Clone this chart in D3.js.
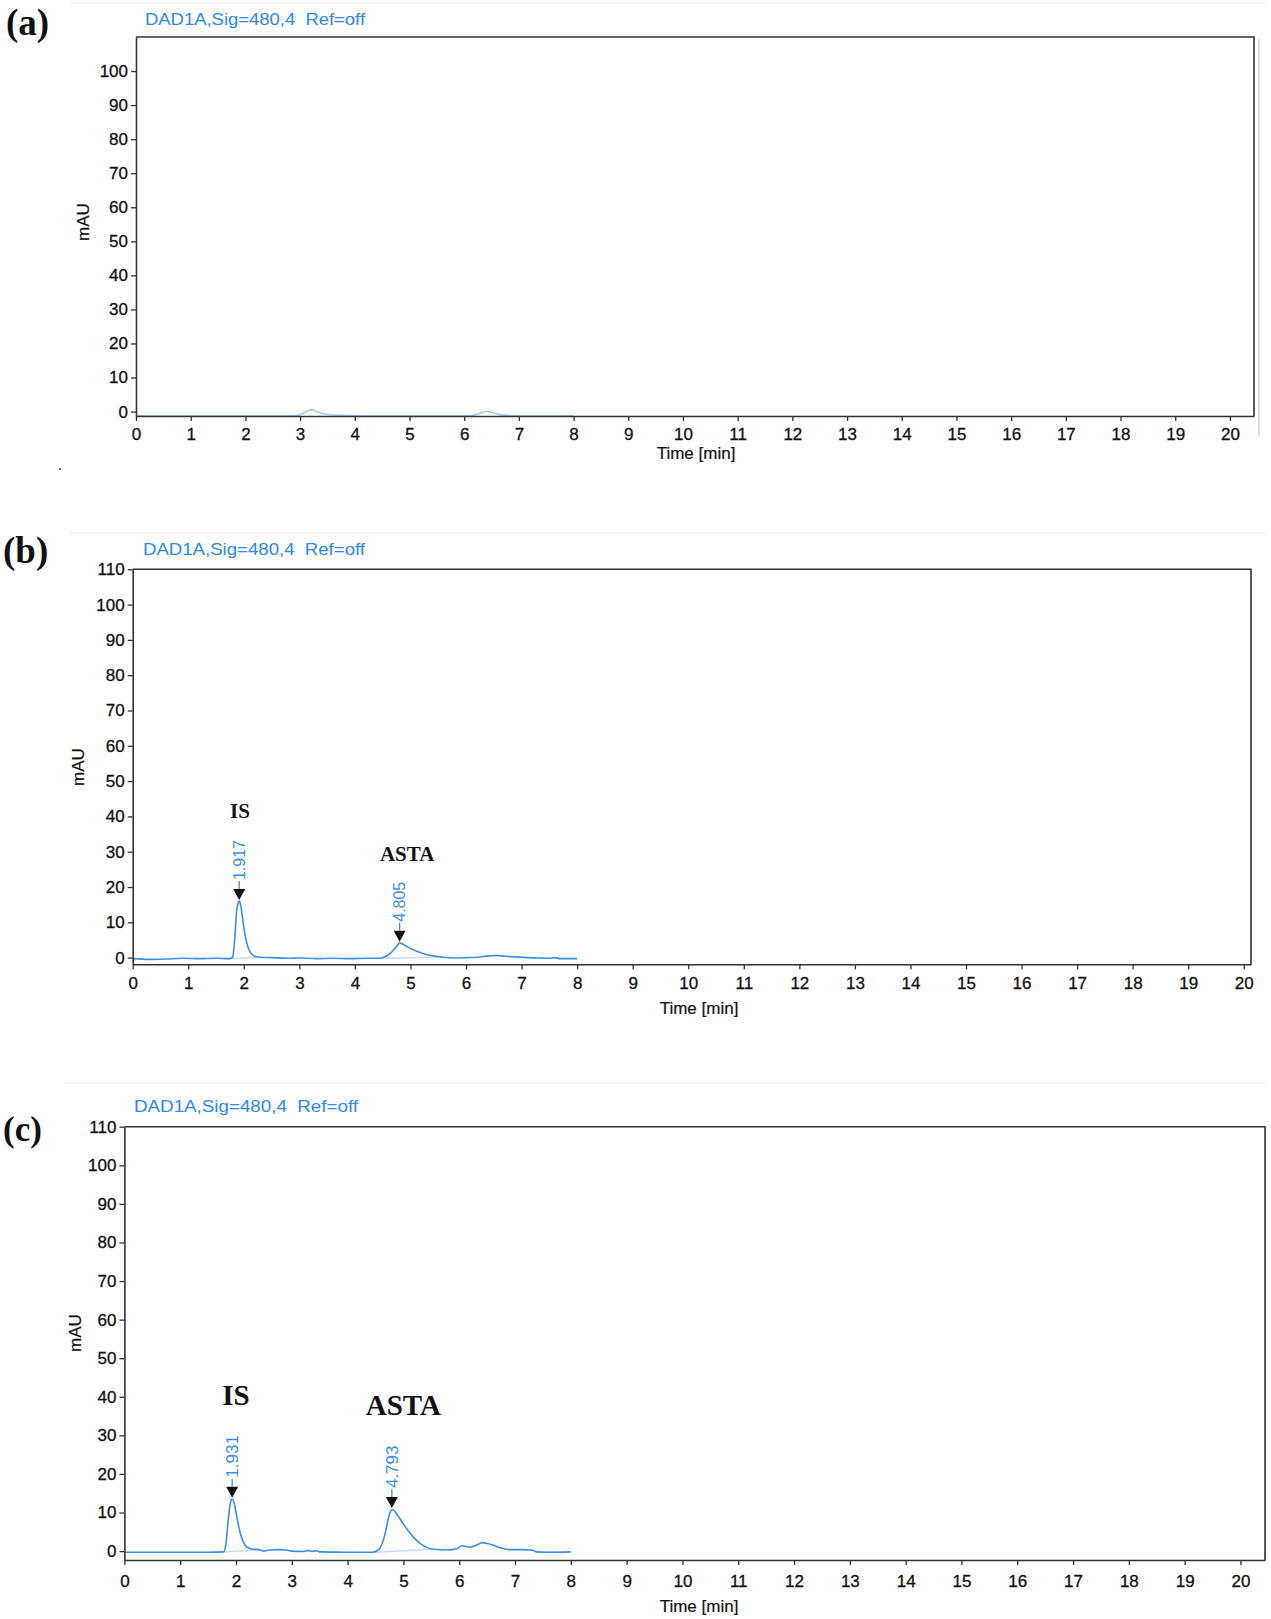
<!DOCTYPE html>
<html lang="en">
<head>
<meta charset="UTF-8">
<title>DAD1A chromatograms</title>
<script src="https://d3js.org/d3.v7.min.js"></script>
<style>
  html, body { margin: 0; padding: 0; background: #fff; }
  svg { display: block; }
  .tick text { font-family: "Liberation Sans", Arial, sans-serif; font-size: 17px; fill: #111; stroke: #111; stroke-width: 0.3; }
  .tick line { stroke: #333; stroke-width: 1.3; }
  .domain { stroke: #333; stroke-width: 1.6; }
  .sig-title { font-family: "Liberation Sans", Arial, sans-serif; fill: #2a8af0; }
  .panel-letter, .compound { font-family: "Liberation Serif", "Times New Roman", serif; font-weight: bold; fill: #111; }
  .axis-label { font-family: "Liberation Sans", Arial, sans-serif; font-size: 17px; fill: #111; stroke: #111; stroke-width: 0.2; }
  .rt-label { font-family: "Liberation Sans", Arial, sans-serif; fill: #3a90e8; }
</style>
</head>
<body>
<svg id="chart" width="1271" height="1619"></svg>
<script>
// ---- data ----
const signalTitle = "DAD1A,Sig=480,4  Ref=off";
const panelLetters = ["(a)", "(b)", "(c)"];
const xTicks = [0, 1, 2, 3, 4, 5, 6, 7, 8, 9, 10, 11, 12, 13, 14, 15, 16, 17, 18, 19, 20];
const yTicksA = [0, 10, 20, 30, 40, 50, 60, 70, 80, 90, 100];
const yTicksBC = [0, 10, 20, 30, 40, 50, 60, 70, 80, 90, 100, 110];

// [time (min), mAU]
const traceA = [
  [0, -1.25], [1, -1.25], [2, -1.25], [2.9, -1.25], [3.05, -0.6], [3.15, 0.3], [3.22, 0.5], [3.3, 0.0],
  [3.45, -0.7], [3.7, -1.1], [4.5, -1.25], [5.5, -1.25], [6.1, -1.25], [6.25, -0.7], [6.4, 0.0],
  [6.5, -0.2], [6.65, -0.9], [7.0, -1.25], [8.0, -1.25]
];
const traceB = [
  [0, -0.3], [0.3, -0.5], [0.6, -0.4], [0.9, -0.2], [1.2, -0.3], [1.5, -0.2], [1.75, -0.3],
  [1.80, 0.2], [1.84, 6], [1.87, 13], [1.90, 15.5], [1.917, 16.0], [1.94, 15.2], [1.97, 12],
  [2.00, 8.5], [2.04, 5], [2.08, 2.8], [2.13, 1.2], [2.2, 0.4], [2.3, 0.1], [2.5, 0.0], [2.8, -0.2],
  [3.0, -0.1], [3.3, -0.3], [3.6, -0.2], [3.9, -0.3], [4.2, -0.2], [4.45, -0.2], [4.55, 0.3],
  [4.62, 1.0], [4.70, 2.2], [4.76, 3.4], [4.805, 4.2], [4.85, 3.9], [4.92, 3.3], [5.0, 2.6],
  [5.1, 1.9], [5.2, 1.3], [5.3, 0.8], [5.45, 0.4], [5.6, 0.1], [5.8, -0.1], [6.0, 0.0], [6.2, 0.1],
  [6.4, 0.5], [6.55, 0.6], [6.7, 0.4], [6.9, 0.2], [7.1, 0.0], [7.3, -0.1], [7.5, -0.2], [7.6, 0.0],
  [7.7, -0.3], [8.0, -0.3]
];
const traceC = [
  [0, -0.3], [0.5, -0.3], [1.0, -0.3], [1.5, -0.3], [1.78, -0.2], [1.82, 2], [1.86, 8], [1.90, 12.5],
  [1.931, 13.5], [1.96, 12.8], [2.00, 10], [2.04, 7], [2.08, 4.5], [2.13, 2.4], [2.2, 1.0], [2.3, 0.5],
  [2.42, 0.4], [2.5, 0.0], [2.6, 0.3], [2.75, 0.4], [2.9, 0.3], [3.0, 0.0], [3.2, -0.1], [3.3, 0.2],
  [3.35, -0.1], [3.45, 0.1], [3.5, -0.2], [4.0, -0.3], [4.45, -0.3], [4.55, 0.3], [4.62, 2], [4.68, 5],
  [4.73, 8.5], [4.77, 10.3], [4.80, 10.8], [4.84, 10.4], [4.9, 9.2], [5.0, 7.0], [5.1, 5.0], [5.2, 3.3],
  [5.3, 2.0], [5.4, 1.1], [5.55, 0.5], [5.8, 0.3], [5.95, 0.6], [6.05, 1.4], [6.12, 1.2], [6.2, 1.0],
  [6.3, 1.5], [6.42, 2.2], [6.5, 2.0], [6.6, 1.6], [6.75, 0.8], [6.9, 0.4], [7.1, 0.4], [7.3, 0.3],
  [7.38, -0.2], [7.6, -0.3], [8.0, -0.2]
];

// retention-time markers: label, time, apex height
const peaksB = [{ rt: "1.917", t: 1.917, top: 16.0 }, { rt: "4.805", t: 4.805, top: 4.2 }];
const peaksC = [{ rt: "1.931", t: 1.931, top: 13.6 }, { rt: "4.793", t: 4.793, top: 10.9 }];

// integration baselines [t0, v0, t1, v1]
const integB = [[1.78, -0.3, 2.3, 0.1], [4.5, -0.2, 5.6, 0.1]];
const integC = [[1.78, -0.2, 2.4, 0.3], [4.5, -0.3, 5.5, 0.5]];

// compound names: name, time, mAU of baseline
const compoundsB = [{ name: "IS", t: 1.93, v: 39.6 }, { name: "ASTA", t: 4.94, v: 27.4 }];
const compoundsC = [{ name: "IS", t: 2.0, v: 37.8 }, { name: "ASTA", t: 5.0, v: 35.2 }];

// ---- layout ----
const panels = [
  {
    letter: panelLetters[0], trace: traceA, peaks: [], integ: [], compounds: [], yTicks: yTicksA,
    traceColor: "#9cc8f2",
    box: { left: 136, right: 1254, top: 37, bottom: 416 }, tMax: 20.44, yMin: -1.3, yMax: 110,
    title: { x: 145, y: 25, size: 16, len: 220 }, letterPos: { x: 6, y: 35, size: 37 },
    xLabel: { x: 696, y: 459 }, yLabel: { x: 83, y: 222 }, xPad: 7, shadowRight: true,
    rtSize: 16, compSize: 21
  },
  {
    letter: panelLetters[1], trace: traceB, peaks: peaksB, integ: integB, compounds: compoundsB, yTicks: yTicksBC,
    traceColor: "#3a8ee6",
    box: { left: 132.7, right: 1251, top: 569.3, bottom: 964.3 }, tMax: 20.13, yMin: -1.9, yMax: 110,
    title: { x: 143, y: 555, size: 17, len: 222 }, letterPos: { x: 3, y: 563, size: 37 },
    xLabel: { x: 699, y: 1014 }, yLabel: { x: 78, y: 767 }, xPad: 8, shadowRight: false,
    rtSize: 16, compSize: 21
  },
  {
    letter: panelLetters[2], trace: traceC, peaks: peaksC, integ: integC, compounds: compoundsC, yTicks: yTicksBC,
    traceColor: "#3a8ee6",
    box: { left: 124.4, right: 1265, top: 1126.7, bottom: 1560 }, tMax: 20.44, yMin: -2.3, yMax: 110,
    title: { x: 134, y: 1112, size: 16, len: 224 }, letterPos: { x: 3, y: 1141, size: 35 },
    xLabel: { x: 699, y: 1612 }, yLabel: { x: 75, y: 1333 }, xPad: 10, shadowRight: false,
    rtSize: 17, compSize: 29
  }
];

const svg = d3.select("#chart");

// faint screenshot edges above each panel
[[70, 3], [70, 533], [63, 1083]].forEach(([x, y]) => {
  svg.append("line").attr("x1", x).attr("x2", 1266).attr("y1", y).attr("y2", y)
    .attr("stroke", "#eeeeee").attr("stroke-width", 1);
});

function drawPanel(p) {
  const b = p.box;
  const x = d3.scaleLinear().domain([0, p.tMax]).range([b.left, b.right]);
  const y = d3.scaleLinear().domain([p.yMin, p.yMax]).range([b.bottom, b.top]);
  const g = svg.append("g");

  // top and right frame lines
  g.append("path")
    .attr("d", `M${b.left},${b.top}H${b.right}V${b.bottom}`)
    .attr("fill", "none").attr("stroke", "#333").attr("stroke-width", 1.6);
  if (p.shadowRight) {
    g.append("line").attr("x1", b.right + 5).attr("x2", b.right + 5)
      .attr("y1", b.top + 2).attr("y2", b.bottom + 20)
      .attr("stroke", "#c8c8c8").attr("stroke-width", 1.2);
  }

  // integration baselines
  g.selectAll(".integ").data(p.integ).join("line")
    .attr("x1", d => x(d[0])).attr("y1", d => y(d[1]))
    .attr("x2", d => x(d[2])).attr("y2", d => y(d[3]))
    .attr("stroke", "#c4ddf6").attr("stroke-width", 1.5);

  // signal trace
  const line = d3.line().x(d => x(d[0])).y(d => y(d[1])).curve(d3.curveMonotoneX);
  g.append("path").datum(p.trace)
    .attr("d", line).attr("fill", "none")
    .attr("stroke", p.traceColor).attr("stroke-width", 1.6);

  // axes
  g.append("g").attr("transform", `translate(0,${b.bottom})`)
    .call(d3.axisBottom(x).tickValues(xTicks).tickFormat(d3.format("d"))
      .tickSize(5).tickSizeOuter(0).tickPadding(p.xPad));
  g.append("g").attr("transform", `translate(${b.left},0)`)
    .call(d3.axisLeft(y).tickValues(p.yTicks).tickFormat(d3.format("d"))
      .tickSize(5).tickSizeOuter(0).tickPadding(3));

  // retention time markers
  p.peaks.forEach(pk => {
    const px = x(pk.t), py = y(pk.top) - 1;
    g.append("path")
      .attr("d", `M${px - 6},${py - 11}L${px + 6},${py - 11}L${px},${py}Z`)
      .attr("fill", "#111");
    g.append("line").attr("x1", px).attr("x2", px)
      .attr("y1", py - 11).attr("y2", py - 19)
      .attr("stroke", "#3a90e8").attr("stroke-width", 1.3);
    g.append("text").attr("class", "rt-label")
      .attr("transform", `translate(${px},${py - 20}) rotate(-90)`)
      .attr("dy", "0.36em").style("font-size", p.rtSize + "px")
      .text(pk.rt);
  });

  // compound names
  g.selectAll(".compound").data(p.compounds).join("text")
    .attr("class", "compound")
    .attr("x", d => x(d.t)).attr("y", d => y(d.v))
    .attr("text-anchor", "middle").style("font-size", p.compSize + "px")
    .text(d => d.name);

  // titles and labels
  svg.append("text").attr("class", "sig-title")
    .attr("x", p.title.x).attr("y", p.title.y)
    .attr("textLength", p.title.len).attr("lengthAdjust", "spacingAndGlyphs")
    .style("font-size", p.title.size + "px").style("white-space", "pre")
    .text(signalTitle);
  svg.append("text").attr("class", "panel-letter")
    .attr("x", p.letterPos.x).attr("y", p.letterPos.y)
    .style("font-size", p.letterPos.size + "px").text(p.letter);
  svg.append("text").attr("class", "axis-label")
    .attr("x", p.xLabel.x).attr("y", p.xLabel.y).attr("text-anchor", "middle")
    .text("Time [min]");
  svg.append("text").attr("class", "axis-label")
    .attr("transform", `translate(${p.yLabel.x},${p.yLabel.y}) rotate(-90)`)
    .attr("text-anchor", "middle").attr("dy", "0.36em")
    .text("mAU");
}

panels.forEach(drawPanel);

// stray dot under panel (a)
svg.append("text").attr("x", 58).attr("y", 470)
  .style("font-family", "Liberation Sans, Arial, sans-serif").style("font-size", "14px")
  .text(".");
</script>
</body>
</html>
